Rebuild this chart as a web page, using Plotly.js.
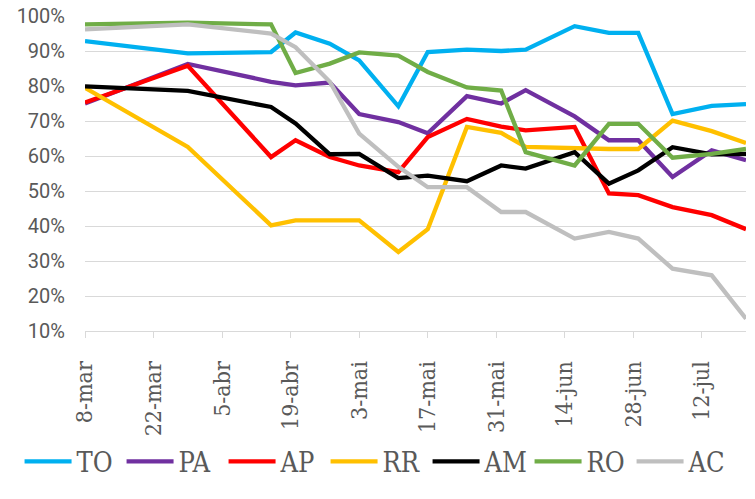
<!DOCTYPE html>
<html>
<head>
<meta charset="utf-8">
<script src="https://cdn.plot.ly/plotly-3.0.1.min.js"></script>
<style>html,body{margin:0;padding:0;background:#fff;}#chart{width:755px;height:499px;}</style>
</head>
<body>
<div id="chart"></div>
<script>
const dates = ['2020-03-08','2020-03-29','2020-04-15','2020-04-20','2020-04-27','2020-05-03','2020-05-11','2020-05-17','2020-05-25','2020-06-01','2020-06-06','2020-06-16','2020-06-23','2020-06-29','2020-07-06','2020-07-14','2020-07-21'];
const TO = [92.8, 89.3, 89.7, 95.3, 92.1, 87.3, 74.2, 89.7, 90.4, 90.0, 90.4, 97.1, 95.2, 95.2, 72.0, 74.3, 74.8];
const PA = [75.0, 86.3, 81.2, 80.2, 81.0, 72.0, 69.7, 66.5, 77.1, 75.0, 78.8, 71.3, 64.5, 64.5, 54.0, 61.6, 58.8];
const AP = [75.3, 85.8, 59.7, 64.5, 59.7, 57.3, 55.4, 65.4, 70.6, 68.4, 67.3, 68.3, 49.3, 48.8, 45.4, 43.1, 39.1];
const RR = [79.5, 62.6, 40.2, 41.6, 41.6, 41.6, 32.6, 39.1, 68.3, 66.6, 62.6, 62.1, 62.0, 62.0, 70.1, 67.1, 63.7];
const AM = [79.9, 78.6, 74.0, 69.3, 60.5, 60.6, 53.7, 54.4, 52.8, 57.3, 56.4, 61.1, 52.1, 55.9, 62.5, 60.5, 60.6];
const RO = [97.6, 98.1, 97.6, 83.7, 86.4, 89.6, 88.7, 84.0, 79.6, 78.7, 61.1, 57.3, 69.2, 69.2, 59.5, 60.6, 62.0];
const AC = [96.2, 97.6, 95.0, 91.1, 81.2, 66.4, 56.9, 51.1, 51.1, 44.0, 44.0, 36.4, 38.3, 36.4, 27.8, 25.9, 13.5];

const seriesNames = ['TO','PA','AP','RR','AM','RO','AC'];
const seriesData = [TO, PA, AP, RR, AM, RO, AC];
const seriesColors = ['#00B0F0','#7030A0','#FF0000','#FFC000','#000000','#70AD47','#BFBFBF'];

const tickDates = ['2020-03-08','2020-03-22','2020-04-05','2020-04-19','2020-05-03','2020-05-17','2020-05-31','2020-06-14','2020-06-28','2020-07-12'];
const tickLabels = ['8-mar','22-mar','5-abr','19-abr','3-mai','17-mai','31-mai','14-jun','28-jun','12-jul'];
const yTicks = [10,20,30,40,50,60,70,80,90,100];
const yTickLabels = ['10%','20%','30%','40%','50%','60%','70%','80%','90%','100%'];

const SERIF = '"DejaVu Serif Condensed", "DejaVu Serif", serif';
const SANS = 'Roboto, "Liberation Sans", sans-serif';

const traces = seriesNames.map((n, i) => ({
  type: 'scatter', mode: 'lines', name: n,
  x: dates, y: seriesData[i],
  line: {color: seriesColors[i], width: 4.3, shape: 'linear'}
}));

const layout = {
  width: 755, height: 499,
  margin: {l: 85, r: 9, t: 16, b: 168},
  paper_bgcolor: '#fff', plot_bgcolor: '#fff',
  font: {family: SERIF, color: '#595959', size: 17},
  showlegend: true,
  legend: {
    orientation: 'h', x: -0.099, xanchor: 'left', y: -0.415, yanchor: 'middle',
    font: {family: SERIF, size: 27, color: '#595959'},
    itemwidth: 47, entrywidth: 40, entrywidthmode: 'pixels',
    traceorder: 'normal'
  },
  xaxis: {
    type: 'date', range: [dates[0], dates[dates.length-1]],
    tickmode: 'array', tickvals: tickDates, ticktext: tickLabels,
    tickangle: -90, showgrid: false, zeroline: false,
    showline: true, linecolor: '#D9D9D9', linewidth: 1,
    ticks: 'outside', ticklen: 6, tickcolor: '#D9D9D9',
    ticklabelstandoff: 14,
    tickfont: {family: SERIF, size: 23, color: '#595959'}
  },
  yaxis: {
    range: [10, 100], tickmode: 'array', tickvals: yTicks, ticktext: yTickLabels,
    showgrid: true, gridcolor: '#D9D9D9', gridwidth: 1,
    zeroline: false, showline: false, ticks: '',
    ticklabelstandoff: 19,
    tickfont: {family: SANS, size: 20, color: '#595959'}
  }
};

Plotly.newPlot('chart', traces, layout, {displayModeBar: false, staticPlot: true});
</script>
</body>
</html>
